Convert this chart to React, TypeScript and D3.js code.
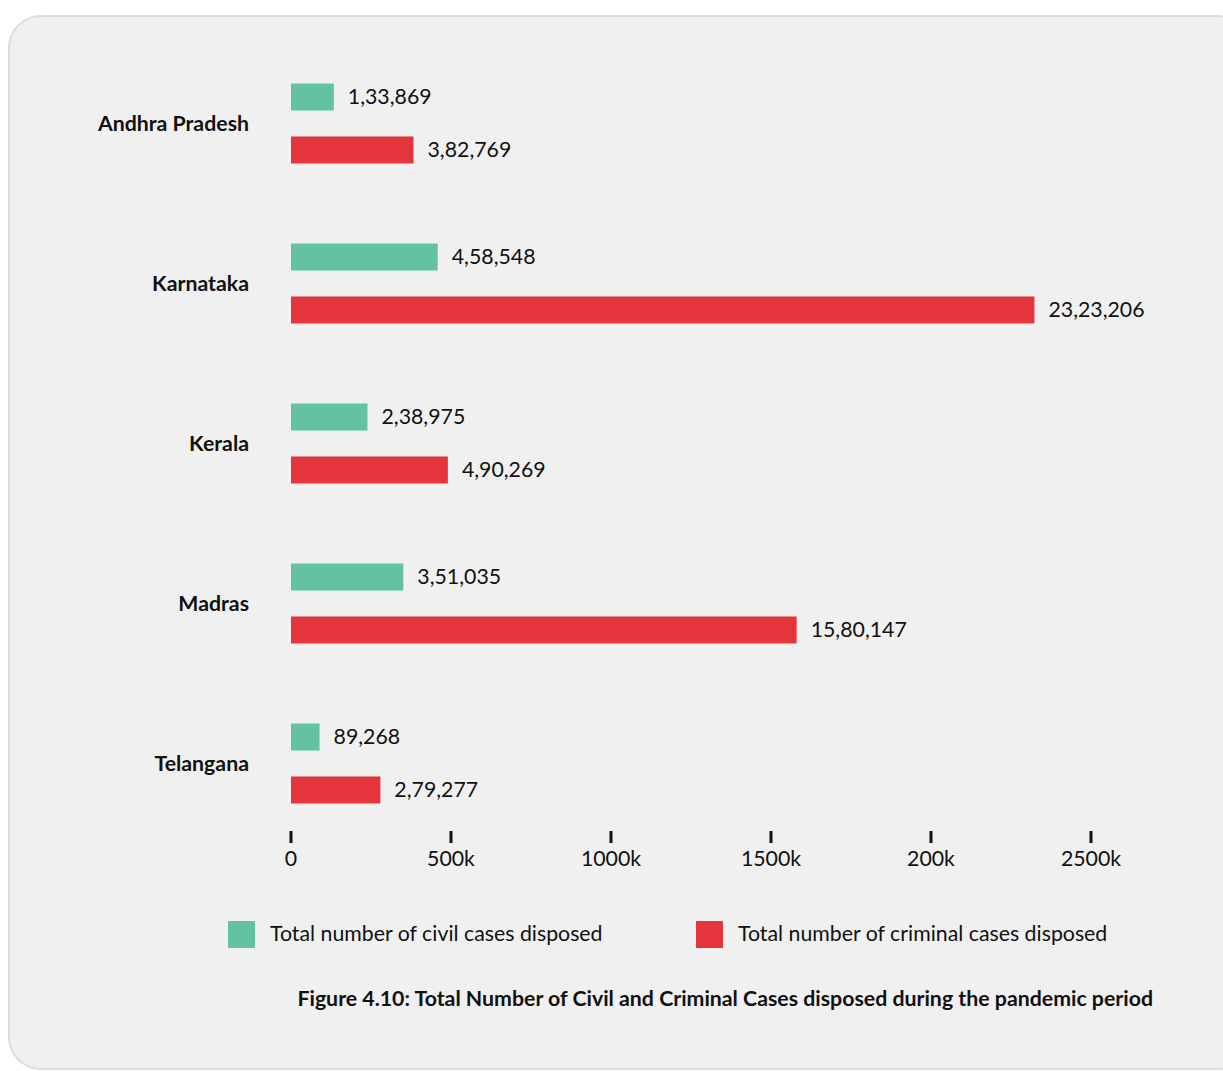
import { useEffect, useRef } from 'react';
import * as d3 from 'd3';

const states = ['Andhra Pradesh', 'Karnataka', 'Kerala', 'Madras', 'Telangana'];
const civilCases = [133869, 458548, 238975, 351035, 89268];
const criminalCases = [382769, 2323206, 490269, 1580147, 279277];
const tickValues = [0, 500000, 1000000, 1500000, 2000000, 2500000];
const tickLabels = ['0', '500k', '1000k', '1500k', '200k', '2500k'];
const seriesNames = ['Total number of civil cases disposed', 'Total number of criminal cases disposed'];
const seriesColors = ['#63c3a0', '#e3353b'];

const FONT = 'Lato, "Noto Sans", sans-serif';
const FS = 21.3;

// Indian digit grouping, e.g. 23,23,206
const formatIndian = (n: number) => {
  const s = String(Math.round(n));
  if (s.length <= 3) return s;
  const last3 = s.slice(-3);
  const rest = s.slice(0, -3).replace(/\B(?=(\d{2})+(?!\d))/g, ',');
  return `${rest},${last3}`;
};

export default function App() {
  const svgRef = useRef<SVGSVGElement>(null);

  useEffect(() => {
    if (!svgRef.current) return;
    const svg = d3.select(svgRef.current);
    svg.selectAll('*').remove();

    const width = 1223;
    const height = 1071;
    svg.attr('width', width).attr('height', height);

    // card background
    svg
      .append('rect')
      .attr('x', 9)
      .attr('y', 16)
      .attr('width', 1240)
      .attr('height', 1053)
      .attr('rx', 32)
      .attr('fill', '#f0f0f0')
      .attr('stroke', '#dddddd')
      .attr('stroke-width', 2);

    // Scales
    const xScale = d3.scaleLinear().domain([0, 2500000]).range([291, 1091]);
    const yScale = d3.scalePoint<string>().domain(states).range([123.5, 763.5]);
    const inner = d3
      .scaleBand<number>()
      .domain([0, 1])
      .range([-40, 40])
      .paddingInner(0.49)
      .paddingOuter(0);

    const rows = states.map((s, i) => ({ state: s, values: [civilCases[i], criminalCases[i]] }));

    const g = svg.append('g');

    // category labels
    g.selectAll('.cat')
      .data(rows)
      .enter()
      .append('text')
      .attr('x', 249)
      .attr('y', (d) => yScale(d.state)!)
      .attr('dy', '0.35em')
      .attr('text-anchor', 'end')
      .attr('font-family', FONT)
      .attr('font-weight', 700)
      .attr('font-size', FS)
      .attr('fill', '#111')
      .text((d) => d.state);

    rows.forEach((row) => {
      row.values.forEach((v, k) => {
        const y = yScale(row.state)! + inner(k)!;
        g.append('rect')
          .attr('x', xScale(0))
          .attr('y', y)
          .attr('width', xScale(v) - xScale(0))
          .attr('height', inner.bandwidth())
          .attr('fill', seriesColors[k]);
        g.append('text')
          .attr('x', xScale(v) + 14)
          .attr('y', y + inner.bandwidth() / 2)
          .attr('dy', '0.35em')
          .attr('font-family', FONT)
          .attr('font-size', FS)
          .attr('fill', '#111')
          .text(formatIndian(v));
      });
    });

    // x axis
    const axis = g.append('g').attr('transform', 'translate(0,831)');
    axis
      .selectAll('line')
      .data(tickValues)
      .enter()
      .append('line')
      .attr('x1', (d) => xScale(d))
      .attr('x2', (d) => xScale(d))
      .attr('y1', 0)
      .attr('y2', 12)
      .attr('stroke', '#111')
      .attr('stroke-width', 3);
    axis
      .selectAll('text')
      .data(tickValues)
      .enter()
      .append('text')
      .attr('x', (d) => xScale(d))
      .attr('y', 28)
      .attr('dy', '0.35em')
      .attr('text-anchor', 'middle')
      .attr('font-family', FONT)
      .attr('font-size', FS)
      .attr('fill', '#111')
      .text((_, i) => tickLabels[i]);

    // legend
    const legendX = [228, 696];
    seriesNames.forEach((name, k) => {
      g.append('rect')
        .attr('x', legendX[k])
        .attr('y', 921)
        .attr('width', 27)
        .attr('height', 27)
        .attr('fill', seriesColors[k]);
      g.append('text')
        .attr('x', legendX[k] + 42)
        .attr('y', 934)
        .attr('dy', '0.35em')
        .attr('font-family', FONT)
        .attr('font-size', FS)
        .attr('fill', '#111')
        .text(name);
    });

    // caption
    g.append('text')
      .attr('x', 1153)
      .attr('y', 999)
      .attr('dy', '0.35em')
      .attr('text-anchor', 'end')
      .attr('font-family', FONT)
      .attr('font-weight', 700)
      .attr('font-size', FS)
      .attr('fill', '#111')
      .text('Figure 4.10: Total Number of Civil and Criminal Cases disposed during the pandemic period');
  }, []);

  return (
    <div style={{ position: 'absolute', left: 0, top: 0, background: '#fff' }}>
      <svg ref={svgRef} style={{ display: 'block' }} />
    </div>
  );
}
